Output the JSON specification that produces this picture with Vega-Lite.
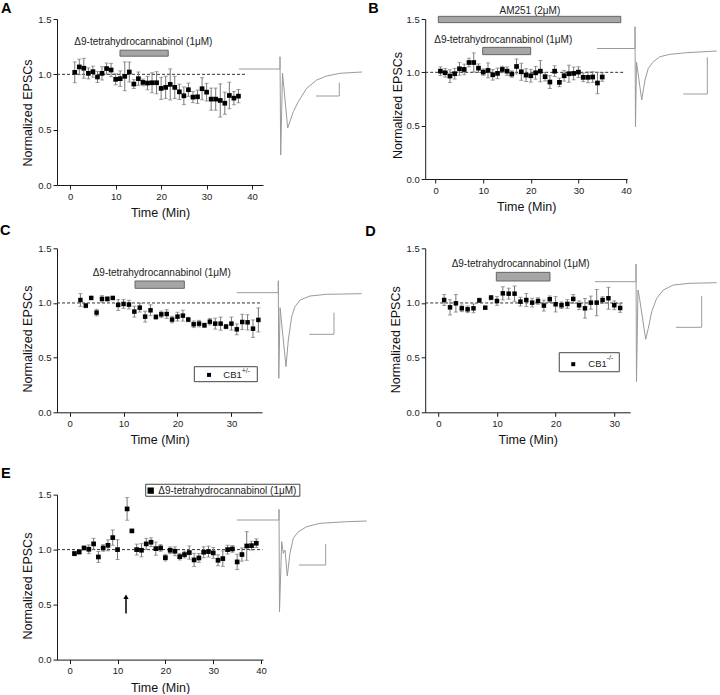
{
  "$schema": "https://vega.github.io/schema/vega-lite/v6.json",
  "background": "white",
  "padding": {"left": 0, "top": 0, "right": 0, "bottom": 0},
  "config": {
    "view": {"stroke": null},
    "font": "Liberation Sans",
    "axis": {"grid": false, "domainColor": "#1a1a1a", "tickColor": "#1a1a1a", "labelColor": "#222", "labelFontSize": 9.5, "labelFont": "Liberation Sans", "titleFont": "Liberation Sans", "titleFontSize": 12.5, "titleFontWeight": "normal", "titleColor": "#111", "labelPadding": 2, "labelFlush": false, "labelOverlap": false, "labelBound": false, "domainWidth": 1, "tickWidth": 1},
    "title": {"font": "Liberation Sans", "fontSize": 14.5, "fontWeight": "bold", "anchor": "start", "frame": "group", "baseline": "alphabetic", "color": "#000", "offset": 0},
    "text": {"font": "Liberation Sans"}
  },
  "datasets": {
    "A": [{"t":1,"y":1.018,"e":0.094},{"t":2,"y":1.067,"e":0.07},{"t":3,"y":1.055,"e":0.09},{"t":4,"y":1.009,"e":0.05},{"t":5,"y":1.024,"e":0.05},{"t":6,"y":0.976,"e":0.05},{"t":7,"y":1.009,"e":0.06},{"t":8,"y":1.052,"e":0.05},{"t":9,"y":1.039,"e":0.06},{"t":10,"y":0.955,"e":0.05},{"t":11,"y":0.961,"e":0.07},{"t":12,"y":0.982,"e":0.13},{"t":13,"y":1.021,"e":0.09},{"t":14,"y":0.912,"e":0.04},{"t":15,"y":0.961,"e":0.06},{"t":16,"y":0.927,"e":0.03},{"t":17,"y":0.921,"e":0.06},{"t":18,"y":0.924,"e":0.09},{"t":19,"y":0.924,"e":0.1},{"t":20,"y":0.873,"e":0.1},{"t":21,"y":0.882,"e":0.1},{"t":22,"y":0.909,"e":0.14},{"t":23,"y":0.882,"e":0.1},{"t":24,"y":0.842,"e":0.07},{"t":25,"y":0.806,"e":0.08},{"t":26,"y":0.861,"e":0.06},{"t":27,"y":0.794,"e":0.05},{"t":28,"y":0.797,"e":0.06},{"t":29,"y":0.87,"e":0.1},{"t":30,"y":0.839,"e":0.08},{"t":31,"y":0.776,"e":0.1},{"t":32,"y":0.776,"e":0.1},{"t":33,"y":0.764,"e":0.15},{"t":34,"y":0.739,"e":0.1},{"t":35,"y":0.809,"e":0.12},{"t":36,"y":0.785,"e":0.06},{"t":37,"y":0.803,"e":0.06}],
    "B": [{"t":1,"y":1.011,"e":0.04},{"t":2,"y":0.996,"e":0.04},{"t":3,"y":0.965,"e":0.06},{"t":4,"y":0.987,"e":0.05},{"t":5,"y":1.033,"e":0.06},{"t":6,"y":1.027,"e":0.05},{"t":7,"y":1.092,"e":0.04},{"t":8,"y":1.092,"e":0.09},{"t":9,"y":1.039,"e":0.04},{"t":10,"y":1.002,"e":0.03},{"t":11,"y":1.018,"e":0.07},{"t":12,"y":0.977,"e":0.05},{"t":13,"y":0.99,"e":0.05},{"t":14,"y":1.027,"e":0.03},{"t":15,"y":1.011,"e":0.04},{"t":16,"y":0.984,"e":0.03},{"t":17,"y":1.055,"e":0.07},{"t":18,"y":1.005,"e":0.08},{"t":19,"y":0.974,"e":0.06},{"t":20,"y":0.968,"e":0.06},{"t":21,"y":0.996,"e":0.06},{"t":22,"y":1.011,"e":0.1},{"t":23,"y":0.959,"e":0.04},{"t":24,"y":0.909,"e":0.06},{"t":25,"y":1.011,"e":0.05},{"t":26,"y":0.906,"e":0.04},{"t":27,"y":0.968,"e":0.05},{"t":28,"y":0.987,"e":0.08},{"t":29,"y":0.99,"e":0.06},{"t":30,"y":1.002,"e":0.05},{"t":31,"y":0.953,"e":0.04},{"t":32,"y":0.953,"e":0.05},{"t":33,"y":0.956,"e":0.05},{"t":34,"y":0.9,"e":0.1},{"t":35,"y":0.956,"e":0.04}],
    "C": [{"t":2,"y":1.027,"e":0.058},{"t":3,"y":0.976,"e":0.02},{"t":4,"y":1.046,"e":0.01},{"t":5,"y":0.912,"e":0.03},{"t":6,"y":1.037,"e":0.03},{"t":7,"y":1.037,"e":0.02},{"t":8,"y":1.046,"e":0.01},{"t":9,"y":0.982,"e":0.05},{"t":10,"y":0.991,"e":0.04},{"t":11,"y":0.985,"e":0.04},{"t":12,"y":0.921,"e":0.05},{"t":13,"y":0.957,"e":0.04},{"t":14,"y":0.875,"e":0.05},{"t":15,"y":0.933,"e":0.05},{"t":16,"y":0.872,"e":0.02},{"t":17,"y":0.896,"e":0.03},{"t":18,"y":0.899,"e":0.04},{"t":19,"y":0.848,"e":0.03},{"t":20,"y":0.875,"e":0.04},{"t":21,"y":0.884,"e":0.05},{"t":22,"y":0.848,"e":0.02},{"t":23,"y":0.805,"e":0.03},{"t":24,"y":0.811,"e":0.03},{"t":25,"y":0.796,"e":0.02},{"t":26,"y":0.829,"e":0.03},{"t":27,"y":0.811,"e":0.05},{"t":28,"y":0.811,"e":0.06},{"t":29,"y":0.784,"e":0.02},{"t":30,"y":0.811,"e":0.06},{"t":31,"y":0.759,"e":0.05},{"t":32,"y":0.826,"e":0.07},{"t":33,"y":0.823,"e":0.07},{"t":34,"y":0.765,"e":0.08},{"t":35,"y":0.845,"e":0.11}],
    "D": [{"t":1,"y":1.027,"e":0.05},{"t":2,"y":0.96,"e":0.07},{"t":3,"y":0.997,"e":0.08},{"t":4,"y":0.951,"e":0.03},{"t":5,"y":0.942,"e":0.03},{"t":6,"y":0.951,"e":0.04},{"t":7,"y":1.024,"e":0.02},{"t":8,"y":0.957,"e":0.01},{"t":9,"y":1.049,"e":0.02},{"t":10,"y":1.018,"e":0.04},{"t":11,"y":1.088,"e":0.06},{"t":12,"y":1.085,"e":0.05},{"t":13,"y":1.085,"e":0.07},{"t":14,"y":1.012,"e":0.04},{"t":15,"y":1.027,"e":0.06},{"t":16,"y":1.003,"e":0.04},{"t":17,"y":1.018,"e":0.03},{"t":18,"y":0.976,"e":0.05},{"t":19,"y":1.034,"e":0.03},{"t":20,"y":0.988,"e":0.07},{"t":21,"y":0.979,"e":0.03},{"t":22,"y":0.991,"e":0.04},{"t":23,"y":1.037,"e":0.04},{"t":24,"y":0.979,"e":0.04},{"t":25,"y":0.951,"e":0.09},{"t":26,"y":1.003,"e":0.06},{"t":27,"y":1.003,"e":0.12},{"t":28,"y":1.027,"e":0.03},{"t":29,"y":1.043,"e":0.1},{"t":30,"y":0.979,"e":0.04},{"t":31,"y":0.954,"e":0.04}],
    "E": [{"t":1,"y":0.964,"e":0.02},{"t":2,"y":0.979,"e":0.02},{"t":3,"y":1.015,"e":0.01},{"t":4,"y":1.003,"e":0.04},{"t":5,"y":1.052,"e":0.05},{"t":6,"y":0.933,"e":0.05},{"t":7,"y":1.015,"e":0.03},{"t":8,"y":1.039,"e":0.05},{"t":9,"y":1.109,"e":0.07},{"t":10,"y":1.0,"e":0.09},{"t":12,"y":1.37,"e":0.103},{"t":13,"y":1.17,"e":0.01},{"t":14,"y":1.0,"e":0.05},{"t":15,"y":0.994,"e":0.06},{"t":16,"y":1.052,"e":0.05},{"t":17,"y":1.067,"e":0.04},{"t":18,"y":1.009,"e":0.06},{"t":19,"y":1.015,"e":0.03},{"t":20,"y":0.927,"e":0.03},{"t":21,"y":0.994,"e":0.03},{"t":22,"y":0.985,"e":0.04},{"t":23,"y":0.936,"e":0.03},{"t":24,"y":0.955,"e":0.03},{"t":25,"y":0.973,"e":0.06},{"t":26,"y":0.906,"e":0.06},{"t":27,"y":0.924,"e":0.04},{"t":28,"y":0.976,"e":0.05},{"t":29,"y":0.982,"e":0.05},{"t":30,"y":0.97,"e":0.05},{"t":31,"y":0.903,"e":0.05},{"t":32,"y":0.918,"e":0.07},{"t":33,"y":1.0,"e":0.04},{"t":34,"y":1.006,"e":0.03},{"t":35,"y":0.888,"e":0.07},{"t":36,"y":0.955,"e":0.06},{"t":37,"y":1.033,"e":0.13},{"t":38,"y":1.036,"e":0.04},{"t":39,"y":1.058,"e":0.04}],
    "trA": [{"i":0,"part":"tr","ms":-27.33,"pA":0},{"i":1,"part":"tr","ms":0,"pA":0},{"i":2,"part":"tr","ms":0,"pA":24.6},{"i":3,"part":"tr","ms":0.47,"pA":-172},{"i":4,"part":"tr","ms":1.67,"pA":-8},{"i":5,"part":"tr","ms":5.13,"pA":-118},{"i":6,"part":"tr","ms":8.87,"pA":-85.4},{"i":7,"part":"tr","ms":12.2,"pA":-65.4},{"i":8,"part":"tr","ms":17.8,"pA":-38.6},{"i":9,"part":"tr","ms":24.47,"pA":-22},{"i":10,"part":"tr","ms":31.13,"pA":-14},{"i":11,"part":"tr","ms":40,"pA":-8.6},{"i":12,"part":"tr","ms":51.13,"pA":-6.6},{"i":13,"part":"tr","ms":54.67,"pA":-6},{"i":14,"part":"sb","ms":24,"pA":-54},{"i":15,"part":"sb","ms":39.53,"pA":-54},{"i":16,"part":"sb","ms":39.53,"pA":-27.4}],
    "trB": [{"i":0,"part":"tr","ms":-25.33,"pA":0},{"i":1,"part":"tr","ms":0,"pA":0},{"i":2,"part":"tr","ms":0,"pA":43.6},{"i":3,"part":"tr","ms":0.33,"pA":-156.4},{"i":4,"part":"tr","ms":1,"pA":-27},{"i":5,"part":"tr","ms":4.47,"pA":-103},{"i":6,"part":"tr","ms":6.67,"pA":-63},{"i":7,"part":"tr","ms":8.87,"pA":-39.6},{"i":8,"part":"tr","ms":12.2,"pA":-26.4},{"i":9,"part":"tr","ms":16.67,"pA":-16.4},{"i":10,"part":"tr","ms":23.33,"pA":-11.6},{"i":11,"part":"tr","ms":34.47,"pA":-8.4},{"i":12,"part":"tr","ms":54.47,"pA":-5},{"i":13,"part":"sb","ms":32.2,"pA":-91},{"i":14,"part":"sb","ms":48.2,"pA":-91},{"i":15,"part":"sb","ms":48.2,"pA":-17.6}],
    "trC": [{"i":0,"part":"tr","ms":-27.73,"pA":0},{"i":1,"part":"tr","ms":0,"pA":0},{"i":2,"part":"tr","ms":0,"pA":24},{"i":3,"part":"tr","ms":0.33,"pA":-171.2},{"i":4,"part":"tr","ms":1.2,"pA":-30},{"i":5,"part":"tr","ms":5.13,"pA":-148},{"i":6,"part":"tr","ms":6.67,"pA":-94.6},{"i":7,"part":"tr","ms":8.93,"pA":-48},{"i":8,"part":"tr","ms":11.13,"pA":-28},{"i":9,"part":"tr","ms":14.47,"pA":-14.6},{"i":10,"part":"tr","ms":21.13,"pA":-6.6},{"i":11,"part":"tr","ms":32.27,"pA":-3.2},{"i":12,"part":"tr","ms":43.33,"pA":-2.6},{"i":13,"part":"tr","ms":55.6,"pA":-2},{"i":14,"part":"sb","ms":20.67,"pA":-83.2},{"i":15,"part":"sb","ms":37.13,"pA":-83.2},{"i":16,"part":"sb","ms":37.13,"pA":-40}],
    "trD": [{"i":0,"part":"tr","ms":-27.33,"pA":0},{"i":1,"part":"tr","ms":0,"pA":0},{"i":2,"part":"tr","ms":0,"pA":35.4},{"i":3,"part":"tr","ms":0.33,"pA":-200},{"i":4,"part":"tr","ms":1.33,"pA":-16.6},{"i":5,"part":"tr","ms":2.2,"pA":-30},{"i":6,"part":"tr","ms":6.47,"pA":-115.2},{"i":7,"part":"tr","ms":8.2,"pA":-93.2},{"i":8,"part":"tr","ms":10.47,"pA":-60},{"i":9,"part":"tr","ms":13.8,"pA":-33.2},{"i":10,"part":"tr","ms":18.2,"pA":-16.6},{"i":11,"part":"tr","ms":24.87,"pA":-6.6},{"i":12,"part":"tr","ms":36,"pA":-3.2},{"i":13,"part":"tr","ms":53.8,"pA":-2},{"i":14,"part":"sb","ms":26.67,"pA":-91.2},{"i":15,"part":"sb","ms":43.8,"pA":-91.2},{"i":16,"part":"sb","ms":43.8,"pA":-28.6}],
    "trE": [{"i":0,"part":"tr","ms":-28.2,"pA":0},{"i":1,"part":"tr","ms":0,"pA":0},{"i":2,"part":"tr","ms":0,"pA":21.4},{"i":3,"part":"tr","ms":0.33,"pA":-183.4},{"i":4,"part":"tr","ms":1.8,"pA":-43.4},{"i":5,"part":"tr","ms":2.87,"pA":-66.6},{"i":6,"part":"tr","ms":4,"pA":-60},{"i":7,"part":"tr","ms":5.53,"pA":-112},{"i":8,"part":"tr","ms":7.33,"pA":-66.6},{"i":9,"part":"tr","ms":9.53,"pA":-36.6},{"i":10,"part":"tr","ms":12.87,"pA":-23.4},{"i":11,"part":"tr","ms":18.47,"pA":-13.4},{"i":12,"part":"tr","ms":27.33,"pA":-6.6},{"i":13,"part":"tr","ms":45.13,"pA":-3.4},{"i":14,"part":"tr","ms":58.47,"pA":-2},{"i":15,"part":"sb","ms":13.33,"pA":-90},{"i":16,"part":"sb","ms":31.13,"pA":-90},{"i":17,"part":"sb","ms":31.13,"pA":-48}]
  },
  "columns": 2,
  "bounds": "flush",
  "align": "each",
  "spacing": {"row": 63.3, "column": 162.2},
  "concat": [
    {
      "width": 206, "height": 166,
      "title": {"text": "A", "dx": -56, "dy": 6},
      "resolve": {"scale": {"x": "independent", "y": "independent"}},
      "layer": [
        {"layer": [
          {"data": {"values": [{"x0": -2.9, "x1": 38.8, "y": 1}]},
           "mark": {"type": "rule", "strokeDash": [3, 2], "color": "#333", "strokeWidth": 1},
           "encoding": {
             "x": {"field": "x0", "type": "quantitative", "scale": {"domain": [-2.9, 42.4], "nice": false, "zero": false},
                   "axis": {"title": "Time (Min)", "values": [0,5,10,15,20,25,30,35,40], "labelExpr": "datum.value % 10 === 0 ? datum.label : ''", "tickSize": {"condition": {"test": "datum.value % 10 === 0", "value": 4}, "value": 2.5}, "titleY": 27.5, "titleBaseline": "middle"}},
             "x2": {"field": "x1"},
             "y": {"field": "y", "type": "quantitative", "title": "Normalized EPSCs", "scale": {"domain": [0, 1.5], "nice": false, "zero": false},
                   "axis": {"title": "Normalized EPSCs", "values": [0,0.25,0.5,0.75,1,1.25,1.5], "format": ".1f", "labelExpr": "datum.value % 0.5 === 0 ? datum.label : ''", "tickSize": {"condition": {"test": "datum.value % 0.5 === 0", "value": 4}, "value": 2.5}, "titleX": -29.5, "titleY": 93.5, "titleBaseline": "middle"}}
           }},
          {"data": {"values": [{"x0": 10.95, "x1": 21.56, "y0": 1.164, "y1": 1.218}]},
           "mark": {"type": "rect", "fill": "#a6a6a6", "stroke": "#666", "strokeWidth": 1},
           "encoding": {"x": {"field": "x0", "type": "quantitative"}, "x2": {"field": "x1"}, "y": {"field": "y0", "type": "quantitative", "title": "Normalized EPSCs"}, "y2": {"field": "y1"}}},
          {"data": {"values": [{"x": 16.1, "y": 1.295, "label": "Δ9-tetrahydrocannabinol (1μM)"}]},
           "mark": {"type": "text", "fontSize": 10, "color": "#222"},
           "encoding": {"x": {"field": "x", "type": "quantitative"}, "y": {"field": "y", "type": "quantitative", "title": "Normalized EPSCs"}, "text": {"field": "label"}}},
          {"data": {"name": "A"},
           "mark": {"type": "errorbar", "ticks": {"size": 4, "color": "#777"}, "rule": {"color": "#777", "strokeWidth": 1}},
           "encoding": {"x": {"field": "t", "type": "quantitative"}, "y": {"field": "y", "type": "quantitative", "title": "Normalized EPSCs"}, "yError": {"field": "e"}}},
          {"data": {"name": "A"},
           "mark": {"type": "square", "color": "#000", "size": 22, "opacity": 1},
           "encoding": {"x": {"field": "t", "type": "quantitative"}, "y": {"field": "y", "type": "quantitative", "title": "Normalized EPSCs"}}}
        ]},
        {"data": {"name": "trA"},
         "mark": {"type": "line", "color": "#9a9a9a", "strokeWidth": 1},
         "encoding": {
           "x": {"field": "ms", "type": "quantitative", "scale": {"domain": [-148.667, -11.333], "nice": false, "zero": false}, "axis": null},
           "y": {"field": "pA", "type": "quantitative", "scale": {"domain": [-232, 100], "nice": false, "zero": false}, "axis": null},
           "detail": {"field": "part"}, "order": {"field": "i"}}}
      ]
    },
    {
      "width": 202, "height": 160,
      "title": {"text": "B", "dx": -57, "dy": 14},
      "resolve": {"scale": {"x": "independent", "y": "independent"}},
      "layer": [
        {"layer": [
          {"data": {"values": [{"x0": -2.2, "x1": 39.4, "y": 1}]},
           "mark": {"type": "rule", "strokeDash": [3, 2], "color": "#333", "strokeWidth": 1},
           "encoding": {
             "x": {"field": "x0", "type": "quantitative", "scale": {"domain": [-2.2, 40.25], "nice": false, "zero": false},
                   "axis": {"title": "Time (Min)", "values": [0,5,10,15,20,25,30,35,40], "labelExpr": "datum.value % 10 === 0 ? datum.label : ''", "tickSize": {"condition": {"test": "datum.value % 10 === 0", "value": 4}, "value": 2.5}, "titleY": 27, "titleBaseline": "middle"}},
             "x2": {"field": "x1"},
             "y": {"field": "y", "type": "quantitative", "title": "Normalized EPSCs", "scale": {"domain": [0, 1.5], "nice": false, "zero": false},
                   "axis": {"title": "Normalized EPSCs", "values": [0,0.25,0.5,0.75,1,1.25,1.5], "format": ".1f", "labelExpr": "datum.value % 0.5 === 0 ? datum.label : ''", "tickSize": {"condition": {"test": "datum.value % 0.5 === 0", "value": 4}, "value": 2.5}, "titleX": -27.6, "titleY": 86, "titleBaseline": "middle"}}
           }},
          {"data": {"values": [{"x0": 0.56, "x1": 38.9, "y0": 1.466, "y1": 1.525}, {"x0": 9.88, "x1": 19.97, "y0": 1.166, "y1": 1.234}]},
           "mark": {"type": "rect", "fill": "#a6a6a6", "stroke": "#666", "strokeWidth": 1},
           "encoding": {"x": {"field": "x0", "type": "quantitative"}, "x2": {"field": "x1"}, "y": {"field": "y0", "type": "quantitative", "title": "Normalized EPSCs"}, "y2": {"field": "y1"}}},
          {"data": {"values": [{"x": 19.8, "y": 1.574, "label": "AM251 (2μM)"}, {"x": 14.2, "y": 1.305, "label": "Δ9-tetrahydrocannabinol (1μM)"}]},
           "mark": {"type": "text", "fontSize": 10, "color": "#222"},
           "encoding": {"x": {"field": "x", "type": "quantitative"}, "y": {"field": "y", "type": "quantitative", "title": "Normalized EPSCs"}, "text": {"field": "label"}}},
          {"data": {"name": "B"},
           "mark": {"type": "errorbar", "ticks": {"size": 4, "color": "#777"}, "rule": {"color": "#777", "strokeWidth": 1}},
           "encoding": {"x": {"field": "t", "type": "quantitative"}, "y": {"field": "y", "type": "quantitative", "title": "Normalized EPSCs"}, "yError": {"field": "e"}}},
          {"data": {"name": "B"},
           "mark": {"type": "square", "color": "#000", "size": 22, "opacity": 1},
           "encoding": {"x": {"field": "t", "type": "quantitative"}, "y": {"field": "y", "type": "quantitative", "title": "Normalized EPSCs"}}}
        ]},
        {"data": {"name": "trB"},
         "mark": {"type": "line", "color": "#9a9a9a", "strokeWidth": 1},
         "encoding": {
           "x": {"field": "ms", "type": "quantitative", "scale": {"domain": [-139.867, -5.2], "nice": false, "zero": false}, "axis": null},
           "y": {"field": "pA", "type": "quantitative", "scale": {"domain": [-261, 59], "nice": false, "zero": false}, "axis": null},
           "detail": {"field": "part"}, "order": {"field": "i"}}}
      ]
    },
    {
      "width": 205, "height": 183,
      "title": {"text": "C", "dx": -57, "dy": -0.5},
      "resolve": {"scale": {"x": "independent", "y": "independent"}},
      "layer": [
        {"layer": [
          {"data": {"values": [{"x0": -2.34, "x1": 35.5, "y": 1}]},
           "mark": {"type": "rule", "strokeDash": [3, 2], "color": "#333", "strokeWidth": 1},
           "encoding": {
             "x": {"field": "x0", "type": "quantitative", "scale": {"domain": [-2.34, 35.67], "nice": false, "zero": false},
                   "axis": {"title": "Time (Min)", "offset": -19, "values": [0,5,10,15,20,25,30,35], "labelExpr": "datum.value % 10 === 0 ? datum.label : ''", "tickSize": {"condition": {"test": "datum.value % 10 === 0", "value": 4}, "value": 2.5}, "titleY": 27.5, "titleBaseline": "middle"}},
             "x2": {"field": "x1"},
             "y": {"field": "y", "type": "quantitative", "title": "Normalized EPSCs", "scale": {"domain": [0, 1.5], "range": [164, 0], "nice": false, "zero": false},
                   "axis": {"title": "Normalized EPSCs", "values": [0,0.25,0.5,0.75,1,1.25,1.5], "format": ".1f", "labelExpr": "datum.value % 0.5 === 0 ? datum.label : ''", "tickSize": {"condition": {"test": "datum.value % 0.5 === 0", "value": 4}, "value": 2.5}, "titleX": -29.5, "titleY": 90.3, "titleBaseline": "middle"}}
           }},
          {"data": {"values": [{"x0": 12.13, "x1": 21.27, "y0": 1.134, "y1": 1.201}]},
           "mark": {"type": "rect", "fill": "#a6a6a6", "stroke": "#666", "strokeWidth": 1},
           "encoding": {"x": {"field": "x0", "type": "quantitative"}, "x2": {"field": "x1"}, "y": {"field": "y0", "type": "quantitative", "title": "Normalized EPSCs"}, "y2": {"field": "y1"}}},
          {"data": {"values": [{"x0": 23.12, "x1": 34.8, "y0": 0.28, "y1": 0.417}]},
           "mark": {"type": "rect", "fill": "white", "stroke": "#444", "strokeWidth": 1},
           "encoding": {"x": {"field": "x0", "type": "quantitative"}, "x2": {"field": "x1"}, "y": {"field": "y0", "type": "quantitative", "title": "Normalized EPSCs"}, "y2": {"field": "y1"}}},
          {"data": {"values": [{"x": 17.07, "y": 1.277, "label": "Δ9-tetrahydrocannabinol (1μM)"}]},
           "mark": {"type": "text", "fontSize": 10, "color": "#222"},
           "encoding": {"x": {"field": "x", "type": "quantitative"}, "y": {"field": "y", "type": "quantitative", "title": "Normalized EPSCs"}, "text": {"field": "label"}}},
          {"data": {"values": [{"x": 28.5, "y": 0.342, "label": "CB1"}]},
           "mark": {"type": "text", "fontSize": 9.5, "color": "#222", "align": "left"},
           "encoding": {"x": {"field": "x", "type": "quantitative"}, "y": {"field": "y", "type": "quantitative", "title": "Normalized EPSCs"}, "text": {"field": "label"}}},
          {"data": {"values": [{"x": 31.9, "y": 0.378, "label": "+/-"}]},
           "mark": {"type": "text", "fontSize": 7, "color": "#222", "align": "left"},
           "encoding": {"x": {"field": "x", "type": "quantitative"}, "y": {"field": "y", "type": "quantitative", "title": "Normalized EPSCs"}, "text": {"field": "label"}}},
          {"data": {"values": [{"x": 25.85, "y": 0.342}]},
           "mark": {"type": "square", "color": "#000", "size": 16, "opacity": 1},
           "encoding": {"x": {"field": "x", "type": "quantitative"}, "y": {"field": "y", "type": "quantitative", "title": "Normalized EPSCs"}}},
          {"data": {"name": "C"},
           "mark": {"type": "errorbar", "ticks": {"size": 4, "color": "#777"}, "rule": {"color": "#777", "strokeWidth": 1}},
           "encoding": {"x": {"field": "t", "type": "quantitative"}, "y": {"field": "y", "type": "quantitative", "title": "Normalized EPSCs"}, "yError": {"field": "e"}}},
          {"data": {"name": "C"},
           "mark": {"type": "square", "color": "#000", "size": 20, "opacity": 1},
           "encoding": {"x": {"field": "t", "type": "quantitative"}, "y": {"field": "y", "type": "quantitative", "title": "Normalized EPSCs"}}}
        ]},
        {"data": {"name": "trC"},
         "mark": {"type": "line", "color": "#9a9a9a", "strokeWidth": 1},
         "encoding": {
           "x": {"field": "ms", "type": "quantitative", "scale": {"domain": [-147.533, -10.867], "nice": false, "zero": false}, "axis": null},
           "y": {"field": "pA", "type": "quantitative", "scale": {"domain": [-239.2, 88.8], "range": [164, 0], "nice": false, "zero": false}, "axis": null},
           "detail": {"field": "part"}, "order": {"field": "i"}}}
      ]
    },
    {
      "width": 205, "height": 183,
      "title": {"text": "D", "dx": -60, "dy": -0.1},
      "resolve": {"scale": {"x": "independent", "y": "independent"}},
      "layer": [
        {"layer": [
          {"data": {"values": [{"x0": -2.23, "x1": 31.4, "y": 1}]},
           "mark": {"type": "rule", "strokeDash": [3, 2], "color": "#333", "strokeWidth": 1},
           "encoding": {
             "x": {"field": "x0", "type": "quantitative", "scale": {"domain": [-2.23, 32.71], "nice": false, "zero": false},
                   "axis": {"title": "Time (Min)", "offset": -19, "values": [0,5,10,15,20,25,30], "labelExpr": "datum.value % 10 === 0 ? datum.label : ''", "tickSize": {"condition": {"test": "datum.value % 10 === 0", "value": 4}, "value": 2.5}, "titleY": 27.5, "titleBaseline": "middle"}},
             "x2": {"field": "x1"},
             "y": {"field": "y", "type": "quantitative", "title": "Normalized EPSCs", "scale": {"domain": [0, 1.5], "range": [164, 0], "nice": false, "zero": false},
                   "axis": {"title": "Normalized EPSCs", "values": [0,0.25,0.5,0.75,1,1.25,1.5], "format": ".1f", "labelExpr": "datum.value % 0.5 === 0 ? datum.label : ''", "tickSize": {"condition": {"test": "datum.value % 0.5 === 0", "value": 4}, "value": 2.5}, "titleX": -29.3, "titleY": 91, "titleBaseline": "middle"}}
           }},
          {"data": {"values": [{"x0": 9.89, "x1": 19.04, "y0": 1.201, "y1": 1.28}]},
           "mark": {"type": "rect", "fill": "#a6a6a6", "stroke": "#666", "strokeWidth": 1},
           "encoding": {"x": {"field": "x0", "type": "quantitative"}, "x2": {"field": "x1"}, "y": {"field": "y0", "type": "quantitative", "title": "Normalized EPSCs"}, "y2": {"field": "y1"}}},
          {"data": {"values": [{"x0": 20.62, "x1": 30.85, "y0": 0.371, "y1": 0.545}]},
           "mark": {"type": "rect", "fill": "white", "stroke": "#444", "strokeWidth": 1},
           "encoding": {"x": {"field": "x0", "type": "quantitative"}, "x2": {"field": "x1"}, "y": {"field": "y0", "type": "quantitative", "title": "Normalized EPSCs"}, "y2": {"field": "y1"}}},
          {"data": {"values": [{"x": 14.04, "y": 1.357, "label": "Δ9-tetrahydrocannabinol (1μM)"}]},
           "mark": {"type": "text", "fontSize": 10, "color": "#222"},
           "encoding": {"x": {"field": "x", "type": "quantitative"}, "y": {"field": "y", "type": "quantitative", "title": "Normalized EPSCs"}, "text": {"field": "label"}}},
          {"data": {"values": [{"x": 25.57, "y": 0.44, "label": "CB1"}]},
           "mark": {"type": "text", "fontSize": 9.5, "color": "#222", "align": "left"},
           "encoding": {"x": {"field": "x", "type": "quantitative"}, "y": {"field": "y", "type": "quantitative", "title": "Normalized EPSCs"}, "text": {"field": "label"}}},
          {"data": {"values": [{"x": 28.7, "y": 0.5, "label": "-/-"}]},
           "mark": {"type": "text", "fontSize": 7, "color": "#222", "align": "left"},
           "encoding": {"x": {"field": "x", "type": "quantitative"}, "y": {"field": "y", "type": "quantitative", "title": "Normalized EPSCs"}, "text": {"field": "label"}}},
          {"data": {"values": [{"x": 23.0, "y": 0.44}]},
           "mark": {"type": "square", "color": "#000", "size": 16, "opacity": 1},
           "encoding": {"x": {"field": "x", "type": "quantitative"}, "y": {"field": "y", "type": "quantitative", "title": "Normalized EPSCs"}}},
          {"data": {"name": "D"},
           "mark": {"type": "errorbar", "ticks": {"size": 4, "color": "#777"}, "rule": {"color": "#777", "strokeWidth": 1}},
           "encoding": {"x": {"field": "t", "type": "quantitative"}, "y": {"field": "y", "type": "quantitative", "title": "Normalized EPSCs"}, "yError": {"field": "e"}}},
          {"data": {"name": "D"},
           "mark": {"type": "square", "color": "#000", "size": 20, "opacity": 1},
           "encoding": {"x": {"field": "t", "type": "quantitative"}, "y": {"field": "y", "type": "quantitative", "title": "Normalized EPSCs"}}}
        ]},
        {"data": {"name": "trD"},
         "mark": {"type": "line", "color": "#9a9a9a", "strokeWidth": 1},
         "encoding": {
           "x": {"field": "ms", "type": "quantitative", "scale": {"domain": [-140.533, -3.867], "nice": false, "zero": false}, "axis": null},
           "y": {"field": "pA", "type": "quantitative", "scale": {"domain": [-261.2, 66.8], "range": [164, 0], "nice": false, "zero": false}, "axis": null},
           "detail": {"field": "part"}, "order": {"field": "i"}}}
      ]
    },
    {
      "width": 206, "height": 165,
      "title": {"text": "E", "dx": -56, "dy": 1.25},
      "resolve": {"scale": {"x": "independent", "y": "independent"}},
      "layer": [
        {"layer": [
          {"data": {"values": [{"x0": -2.65, "x1": 40.3, "y": 1}]},
           "mark": {"type": "rule", "strokeDash": [3, 2], "color": "#333", "strokeWidth": 1},
           "encoding": {
             "x": {"field": "x0", "type": "quantitative", "scale": {"domain": [-2.65, 40.4], "nice": false, "zero": false},
                   "axis": {"title": "Time (Min)", "values": [0,5,10,15,20,25,30,35,40], "labelExpr": "datum.value % 10 === 0 ? datum.label : ''", "tickSize": {"condition": {"test": "datum.value % 10 === 0", "value": 4}, "value": 2.5}, "titleY": 27.5, "titleBaseline": "middle"}},
             "x2": {"field": "x1"},
             "y": {"field": "y", "type": "quantitative", "title": "Normalized EPSCs", "scale": {"domain": [0, 1.5], "nice": false, "zero": false},
                   "axis": {"title": "Normalized EPSCs", "values": [0,0.25,0.5,0.75,1,1.25,1.5], "format": ".1f", "labelExpr": "datum.value % 0.5 === 0 ? datum.label : ''", "tickSize": {"condition": {"test": "datum.value % 0.5 === 0", "value": 4}, "value": 2.5}, "titleX": -29.5, "titleY": 91, "titleBaseline": "middle"}}
           }},
          {"data": {"values": [{"x0": 15.89, "x1": 48.1, "y0": 1.485, "y1": 1.594}]},
           "mark": {"type": "rect", "fill": "white", "stroke": "#444", "strokeWidth": 1},
           "encoding": {"x": {"field": "x0", "type": "quantitative"}, "x2": {"field": "x1"}, "y": {"field": "y0", "type": "quantitative", "title": "Normalized EPSCs"}, "y2": {"field": "y1"}}},
          {"data": {"values": [{"x": 18.52, "y": 1.536, "label": "Δ9-tetrahydrocannabinol (1μM)"}]},
           "mark": {"type": "text", "fontSize": 10, "color": "#222", "align": "left"},
           "encoding": {"x": {"field": "x", "type": "quantitative"}, "y": {"field": "y", "type": "quantitative", "title": "Normalized EPSCs"}, "text": {"field": "label"}}},
          {"data": {"values": [{"x": 16.93, "y": 1.536}]},
           "mark": {"type": "square", "color": "#000", "size": 40, "opacity": 1},
           "encoding": {"x": {"field": "x", "type": "quantitative"}, "y": {"field": "y", "type": "quantitative", "title": "Normalized EPSCs"}}},
          {"data": {"values": [{"x": 11.77, "y0": 0.418, "y1": 0.56}]},
           "mark": {"type": "rule", "color": "#000", "strokeWidth": 1.5},
           "encoding": {"x": {"field": "x", "type": "quantitative"}, "y": {"field": "y0", "type": "quantitative", "title": "Normalized EPSCs"}, "y2": {"field": "y1"}}},
          {"data": {"values": [{"x": 11.77, "y": 0.572}]},
           "mark": {"type": "point", "shape": "triangle-up", "filled": true, "color": "#000", "size": 28, "opacity": 1},
           "encoding": {"x": {"field": "x", "type": "quantitative"}, "y": {"field": "y", "type": "quantitative", "title": "Normalized EPSCs"}}},
          {"data": {"name": "E"},
           "mark": {"type": "errorbar", "ticks": {"size": 4, "color": "#777"}, "rule": {"color": "#777", "strokeWidth": 1}},
           "encoding": {"x": {"field": "t", "type": "quantitative"}, "y": {"field": "y", "type": "quantitative", "title": "Normalized EPSCs"}, "yError": {"field": "e"}}},
          {"data": {"name": "E"},
           "mark": {"type": "square", "color": "#000", "size": 22, "opacity": 1},
           "encoding": {"x": {"field": "t", "type": "quantitative"}, "y": {"field": "y", "type": "quantitative", "title": "Normalized EPSCs"}}}
        ]},
        {"data": {"name": "trE"},
         "mark": {"type": "line", "color": "#9a9a9a", "strokeWidth": 1},
         "encoding": {
           "x": {"field": "ms", "type": "quantitative", "scale": {"domain": [-148, -10.667], "nice": false, "zero": false}, "axis": null},
           "y": {"field": "pA", "type": "quantitative", "scale": {"domain": [-279.2, 50.8], "nice": false, "zero": false}, "axis": null},
           "detail": {"field": "part"}, "order": {"field": "i"}}}
      ]
    }
  ]
}
